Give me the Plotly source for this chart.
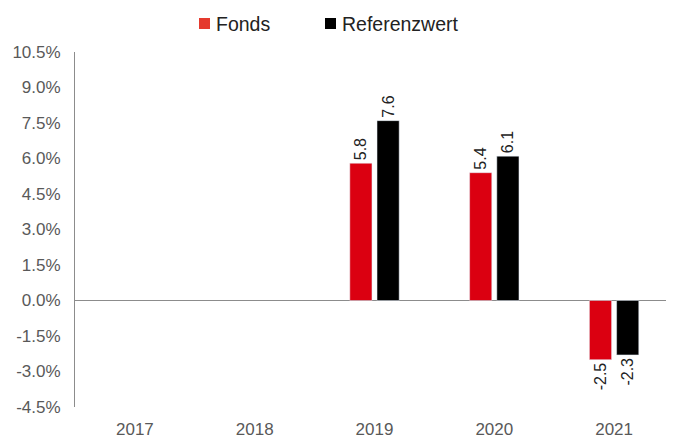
import plotly.graph_objects as go

years = ["2017", "2018", "2019", "2020", "2021"]
fonds = [None, None, 5.8, 5.4, -2.5]
referenz = [None, None, 7.6, 6.1, -2.3]
y_ticks = [-4.5, -3.0, -1.5, 0.0, 1.5, 3.0, 4.5, 6.0, 7.5, 9.0, 10.5]
series_names = ["Fonds", "Referenzwert"]
legend_colors = ["#E53A2E", "#000000"]

def lbl(vals):
    return ["" if v is None else f"{v:.1f}" for v in vals]

fig = go.Figure()
fig.add_trace(go.Bar(x=years, y=fonds, name=series_names[0], marker_color="#DB0011",
                     text=lbl(fonds), textposition="outside", textangle=-90,
                     textfont=dict(size=16, color="#222222"), constraintext="none",
                     cliponaxis=False, showlegend=False))
fig.add_trace(go.Bar(x=years, y=referenz, name=series_names[1], marker_color="#000000",
                     text=lbl(referenz), textposition="outside", textangle=-90,
                     textfont=dict(size=16, color="#222222"), constraintext="none",
                     cliponaxis=False, showlegend=False))

# page body has an 8px margin; compensate so the figure fills the 674x435 window
OFF = 8
W, H = 674 - OFF, 435 - OFF
L, R, T, B = 75 - OFF, 0, 52 - OFF, 28
pw, ph = W - L - R, H - T - B
def px(x):  # window pixel -> paper
    return (x - OFF - L) / pw
def py(y):
    return (H - B - (y - OFF)) / ph

# legend drawn manually (square + label)
legend_x = [199, 325]
for i, name in enumerate(series_names):
    x0 = legend_x[i]
    fig.add_shape(type="rect", xref="paper", yref="paper",
                  x0=px(x0), x1=px(x0 + 11), y0=py(29), y1=py(18),
                  fillcolor=legend_colors[i], line=dict(width=0))
    fig.add_annotation(xref="paper", yref="paper", x=px(x0 + 15), y=py(23.5),
                       xanchor="left", yanchor="middle", text=name, showarrow=False,
                       font=dict(size=19.5, color="#222222"))

fig.update_layout(
    width=W, height=H,
    margin=dict(l=L, r=R, t=T, b=B, autoexpand=False),
    paper_bgcolor="white", plot_bgcolor="white",
    font=dict(family="Liberation Sans, Arial, sans-serif", color="#595959", size=17),
    barmode="group", bargap=0.546, bargroupgap=0.185,
    showlegend=False,
    xaxis=dict(type="category", showline=False, showgrid=False, ticks="outside",
               ticklen=7, tickcolor="rgba(0,0,0,0)", automargin=False,
               tickfont=dict(size=17, color="#595959")),
    yaxis=dict(range=[-4.5, 10.5], tickvals=y_ticks,
               ticktext=[f"{v:.1f}%" for v in y_ticks],
               showgrid=False, showline=True, linecolor="#8C8C8C", linewidth=1,
               zeroline=True, zerolinecolor="#8C8C8C", zerolinewidth=1.3,
               ticks="outside", ticklen=10, tickcolor="rgba(0,0,0,0)", automargin=False,
               tickfont=dict(size=17, color="#595959")),
)

fig.write_html("out.html")
